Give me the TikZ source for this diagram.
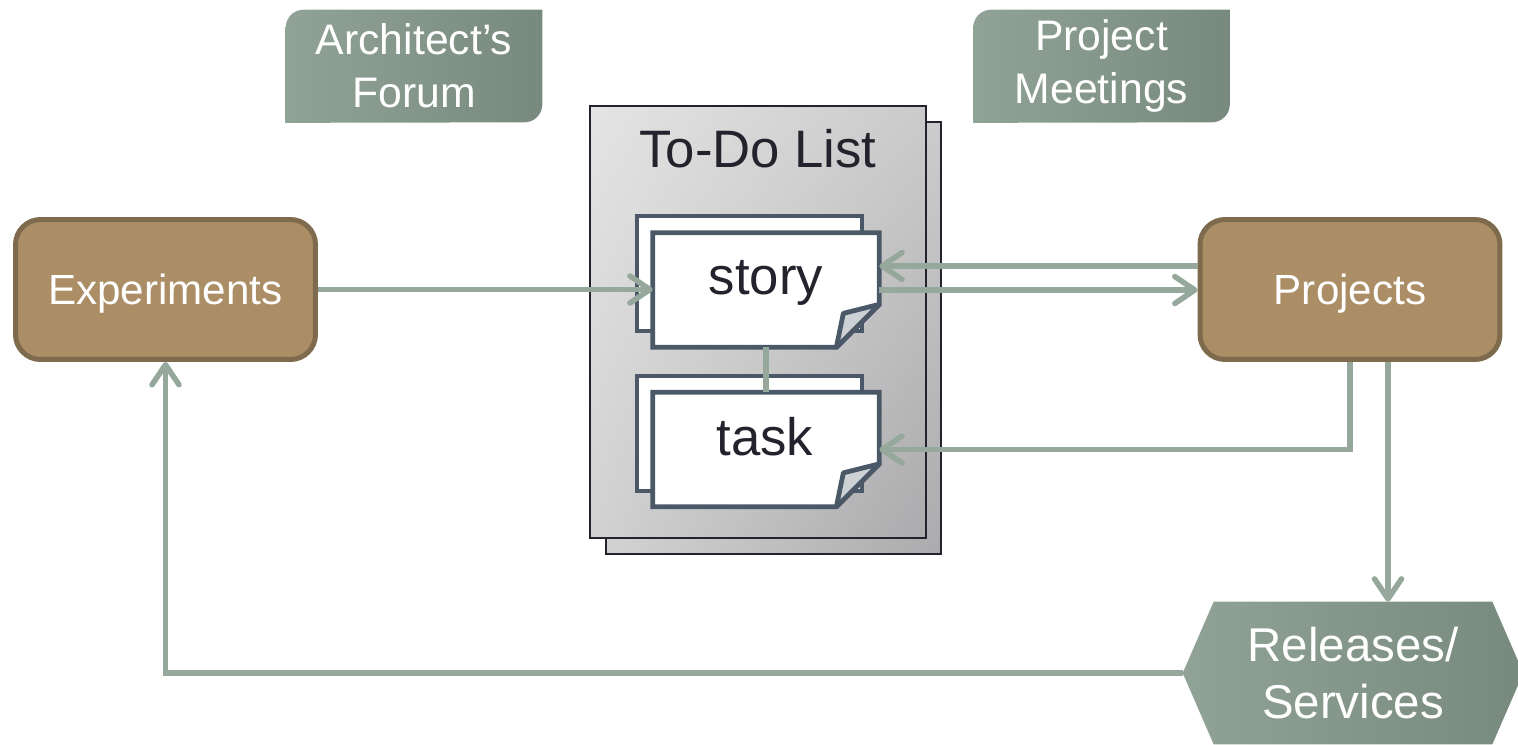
\documentclass[tikz,border=0pt]{standalone}
\usepackage{fontspec}
\setmainfont{Liberation Sans}
\usetikzlibrary{arrows.meta,shadings}
\pgfdeclarelayer{bg}
\pgfsetlayers{bg,main}
\definecolor{arr}{HTML}{95A89B}
\definecolor{brownfill}{HTML}{AB8E66}
\definecolor{browndraw}{HTML}{7E6A4C}
\definecolor{gL}{HTML}{91A396}
\definecolor{gR}{HTML}{788A7E}
\definecolor{ink}{HTML}{23232D}
\definecolor{notec}{HTML}{4A5868}
\definecolor{foldc}{HTML}{CDD1D5}
\definecolor{shA}{HTML}{E4E4E4}
\definecolor{shB}{HTML}{CBCBCC}
\definecolor{shC}{HTML}{D2D2D3}
\definecolor{shD}{HTML}{ABABAD}
\begin{document}
\begin{tikzpicture}[x=0.02cm,y=-0.02cm,
  conn/.style={draw=arr,line width=0.11cm,-{Straight Barb[length=0.4cm,width=0.54cm,round]}},
  link/.style={draw=arr,line width=0.11cm},
  brownbox/.style={rectangle,rounded corners=0.5cm,fill=brownfill,draw=browndraw,line width=0.1cm,
    text=white,font=\fontsize{24}{28}\selectfont,minimum width=6.0cm,minimum height=2.8cm,
    inner sep=0,text depth=0pt},
  greentext/.style={text=white,font=\fontsize{24.3}{30}\selectfont,align=center,inner sep=0,
    minimum width=5.12cm,minimum height=2.24cm},
  greenshape/.style={left color=gL,right color=gR,draw=none},
  sheet/.style={draw=ink,line width=0.045cm,upper left=shA,upper right=shB,lower left=shC,lower right=shD},
  notepaper/.style={draw=notec,line width=0.095cm,fill=white,line join=miter},
  notebox/.style={rectangle,inner sep=0,minimum width=4.52cm,minimum height=2.28cm},
  foldstyle/.style={draw=notec,line width=0.095cm,fill=foldc,line join=round},
  bigtext/.style={text=ink,font=\fontsize{30}{36}\selectfont,anchor=base,inner sep=0},
]
\useasboundingbox (0,0) rectangle (1518,744);

% green labels
\node[greentext] (af) at (414,66) {\raisebox{-3pt}{\parbox{5cm}{\centering Architect’s\\Forum}}};
\node[greentext] (pm) at (1101.5,66) {\raisebox{-3pt}{\parbox{5cm}{\centering Project\\Meetings}}};
\begin{pgfonlayer}{bg}
\foreach \n in {af,pm}{
  \shade[greenshape] ([yshift=-0.01cm]\n.south west) -- ([yshift=-0.36cm]\n.north west)
    arc[start angle=180,end angle=90,radius=0.36cm] -- (\n.north east)
    -- ([yshift=0.36cm]\n.south east)
    arc[start angle=0,end angle=-90,radius=0.36cm] -- cycle;
}
\end{pgfonlayer}

% To-Do list sheets
\shadedraw[sheet] (606,122) rectangle (941,554);
\node[shade,sheet,inner sep=0,minimum width=6.72cm,minimum height=8.64cm] (todo) at (758,322) {};
\node[bigtext] (todotitle) at (758,167) {To-Do List};

% story
\draw[notepaper] (637,216) rectangle (862,331);
\node[notebox] (story) at (766,290) {};
\draw[notepaper] (story.north west) -- (story.north east) -- ([yshift=0.86cm]story.south east)
  -- ([xshift=-0.86cm]story.south east) -- (story.south west) -- cycle;
\draw[foldstyle] ([yshift=0.86cm]story.south east) -- ([xshift=-0.72cm,yshift=0.68cm]story.south east)
  -- ([xshift=-0.86cm]story.south east) -- cycle;
\node[bigtext] (storyt) at (766,294) {story};

% task
\draw[notepaper] (637,376) rectangle (862,491);
\node[notebox] (task) at (766,449.5) {};
\draw[notepaper] (task.north west) -- (task.north east) -- ([yshift=0.86cm]task.south east)
  -- ([xshift=-0.86cm]task.south east) -- (task.south west) -- cycle;
\draw[foldstyle] ([yshift=0.86cm]task.south east) -- ([xshift=-0.72cm,yshift=0.68cm]task.south east)
  -- ([xshift=-0.86cm]task.south east) -- cycle;
\node[bigtext] (taskt) at (765,455) {task};

% brown boxes
\node[brownbox] (exp) at (165.5,289.5) {Experiments};
\node[brownbox] (proj) at (1350,289.5) {Projects};

% releases hexagon
\node[text=white,font=\fontsize{27}{32.5}\selectfont,align=center,inner sep=0,
  minimum width=6.8cm,minimum height=2.84cm] (rel) at (1353,673) {Releases/\\Services};
\begin{pgfonlayer}{bg}
\shade[greenshape] (rel.west) -- ([xshift=0.62cm]rel.north west) -- ([xshift=-0.62cm]rel.north east)
  -- (rel.east) -- ([xshift=-0.62cm]rel.south east) -- ([xshift=0.62cm]rel.south west) -- cycle;
\end{pgfonlayer}

% connectors
\draw[link] (story.south) -- (task.north);
\draw[conn] (exp.east) -- (exp.east -| story.west);
\draw[conn] ([yshift=0.47cm]proj.west) -- ([yshift=0.47cm]proj.west -| story.east);
\draw[conn] (story.east) -- (story.east -| proj.west);
\draw[conn] (proj.south) |- (task.east);
\draw[conn] ([xshift=0.76cm]proj.south) -- ([xshift=0.76cm]proj.south |- rel.north);
\draw[conn] (rel.west) -| (exp.south);
\end{tikzpicture}
\end{document}
